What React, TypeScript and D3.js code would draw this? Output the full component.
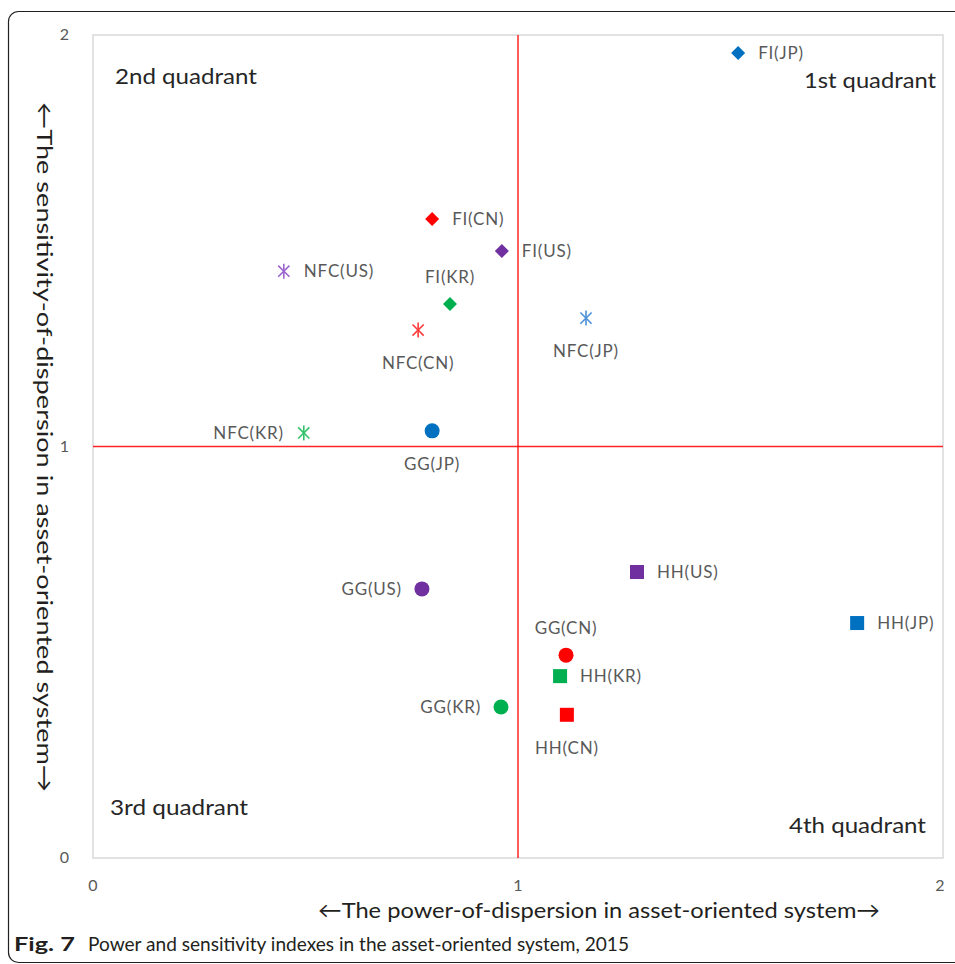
import React from "react";
import * as d3 from "d3";

// ---- Data ----
const pointLabels = [
  "FI(JP)", "FI(CN)", "FI(US)", "FI(KR)",
  "NFC(US)", "NFC(CN)", "NFC(JP)", "NFC(KR)",
  "GG(JP)", "GG(US)", "GG(CN)", "GG(KR)",
  "HH(US)", "HH(JP)", "HH(KR)", "HH(CN)",
];
const sectors = [
  "FI", "FI", "FI", "FI",
  "NFC", "NFC", "NFC", "NFC",
  "GG", "GG", "GG", "GG",
  "HH", "HH", "HH", "HH",
];
const countries = [
  "JP", "CN", "US", "KR",
  "US", "CN", "JP", "KR",
  "JP", "US", "CN", "KR",
  "US", "JP", "KR", "CN",
];
// power-of-dispersion (x)
const powerIndex = [
  1.518, 0.798, 0.962, 0.84,
  0.449, 0.765, 1.16, 0.496,
  0.798, 0.774, 1.113, 0.96,
  1.28, 1.798, 1.099, 1.115,
];
// sensitivity-of-dispersion (y)
const sensIndex = [
  1.956, 1.553, 1.475, 1.346,
  1.426, 1.283, 1.312, 1.033,
  1.038, 0.654, 0.493, 0.367,
  0.695, 0.571, 0.442, 0.348,
];
const xTicks = [0, 1, 2];
const yTicks = [0, 1, 2];
const quadrantNames = ["1st quadrant", "2nd quadrant", "3rd quadrant", "4th quadrant"];
const xTitle = "\u2190The power-of-dispersion in asset-oriented system\u2192";
const yTitle = "\u2190The sensitivity-of-dispersion in asset-oriented system\u2192";
const captionBold = "Fig. 7";
const captionText = "Power and sensitivity indexes in the asset-oriented system, 2015";

export default function App() {
  const W = 955, H = 964;
  const x = d3.scaleLinear().domain([0, 2]).range([93, 943]);
  const y = d3.scaleLinear().domain([0, 2]).range([858, 35]);

  const colorMain: Record<string, string> = { JP: "#0070C0", CN: "#FF0000", US: "#7030A0", KR: "#00B050" };
  const colorStar: Record<string, string> = { JP: "#4A90D9", CN: "#FF3B3B", US: "#9B66CF", KR: "#33C26A" };

  const placement: Record<string, string> = {
    "FI(JP)": "right", "FI(CN)": "right", "FI(US)": "right", "FI(KR)": "above",
    "NFC(US)": "right", "NFC(CN)": "below", "NFC(JP)": "below", "NFC(KR)": "left",
    "GG(JP)": "below", "GG(US)": "left", "GG(CN)": "above", "GG(KR)": "left",
    "HH(US)": "right", "HH(JP)": "right", "HH(KR)": "right", "HH(CN)": "below",
  };

  const labelFont = "Lato, 'Open Sans', sans-serif";
  const labelColor = "#595959";

  const diamond = d3.symbol().type(d3.symbolDiamond2).size(125)();

  const marker = (i: number) => {
    const s = sectors[i];
    const c = countries[i];
    const cx = x(powerIndex[i]);
    const cy = y(sensIndex[i]);
    if (s === "FI") {
      return <path key={"m" + i} d={diamond as string} transform={`translate(${cx},${cy})`} fill={colorMain[c]} />;
    }
    if (s === "GG") {
      return <circle key={"m" + i} cx={cx} cy={cy} r={7.5} fill={colorMain[c]} />;
    }
    if (s === "HH") {
      return <rect key={"m" + i} x={cx - 7} y={cy - 7} width={14} height={14} fill={colorMain[c]} />;
    }
    const r = 7.5;
    const d = 5.6;
    return (
      <g key={"m" + i} stroke={colorStar[c]} strokeWidth={1.6} transform={`translate(${cx},${cy})`}>
        <line x1={0} y1={-r} x2={0} y2={r} />
        <line x1={-d} y1={-d} x2={d} y2={d} />
        <line x1={-d} y1={d} x2={d} y2={-d} />
      </g>
    );
  };

  const label = (i: number) => {
    const t = pointLabels[i];
    const cx = x(powerIndex[i]);
    const cy = y(sensIndex[i]);
    const p = placement[t];
    let tx = cx, ty = cy + 6, anchor = "start";
    if (p === "right") { tx = cx + 20; anchor = "start"; }
    else if (p === "left") { tx = cx - 20; anchor = "end"; }
    else if (p === "above") { ty = cy - 21; anchor = "middle"; }
    else if (p === "below") { ty = cy + 39; anchor = "middle"; }
    return (
      <text key={"l" + i} x={tx} y={ty} textAnchor={anchor} fontFamily={labelFont} fontSize={17} letterSpacing={0.8} fill={labelColor}>
        {t}
      </text>
    );
  };

  const qFont = { fontFamily: labelFont, fontSize: 21, fill: "#262626", lengthAdjust: "spacingAndGlyphs" };

  return (
    <svg width={W} height={H} style={{ position: "absolute", left: 0, top: 0, background: "#fff" }}>
      {/* outer rounded frame */}
      <rect x={8.5} y={11.5} width={1000} height={951} rx={10} fill="none" stroke="#231f20" strokeWidth={1.2} />

      {/* plot area */}
      <rect x={x(0)} y={y(2)} width={x(2) - x(0)} height={y(0) - y(2)} fill="#fff" stroke="#d9d9d9" strokeWidth={1.5} />

      {/* quadrant divider lines */}
      <line x1={x(1)} x2={x(1)} y1={y(2)} y2={y(0)} stroke="#FF0000" strokeWidth={1.5} opacity={0.85} />
      <line x1={x(0)} x2={x(2)} y1={y(1)} y2={y(1)} stroke="#FF0000" strokeWidth={1.5} opacity={0.85} />

      {/* tick labels */}
      {yTicks.map((t) => (
        <text key={"yt" + t} x={69} y={y(t) + 5} textAnchor="end" fontFamily={labelFont} fontSize={16} fill={labelColor}>{t}</text>
      ))}
      {xTicks.map((t) => (
        <text key={"xt" + t} x={x(t) - (t === 2 ? 3 : 0)} y={891} textAnchor="middle" fontFamily={labelFont} fontSize={16} fill={labelColor}>{t}</text>
      ))}

      {/* quadrant names */}
      <text x={804} y={88} textLength={132} {...qFont}>{quadrantNames[0]}</text>
      <text x={115} y={84} textLength={142} {...qFont}>{quadrantNames[1]}</text>
      <text x={110} y={815} textLength={138} {...qFont}>{quadrantNames[2]}</text>
      <text x={789} y={833} textLength={137} {...qFont}>{quadrantNames[3]}</text>

      {/* points */}
      {pointLabels.map((_, i) => marker(i))}
      {pointLabels.map((_, i) => label(i))}

      {/* axis titles */}
      <text x={599} y={918} textAnchor="middle" fontFamily={labelFont} fontSize={22} fill="#231f20" textLength={562} lengthAdjust="spacingAndGlyphs">{xTitle}</text>
      <text transform={`translate(37,447) rotate(90)`} textAnchor="middle" fontFamily={labelFont} fontSize={22} fill="#231f20" textLength={690} lengthAdjust="spacingAndGlyphs">{yTitle}</text>

      {/* caption */}
      <text x={14} y={951} fontFamily={labelFont} fontSize={19} fill="#231f20" fontWeight="bold" textLength={61} lengthAdjust="spacingAndGlyphs">{captionBold}</text>
      <text x={88} y={951} fontFamily={labelFont} fontSize={19} fill="#231f20" textLength={541} lengthAdjust="spacingAndGlyphs">{captionText}</text>
    </svg>
  );
}
